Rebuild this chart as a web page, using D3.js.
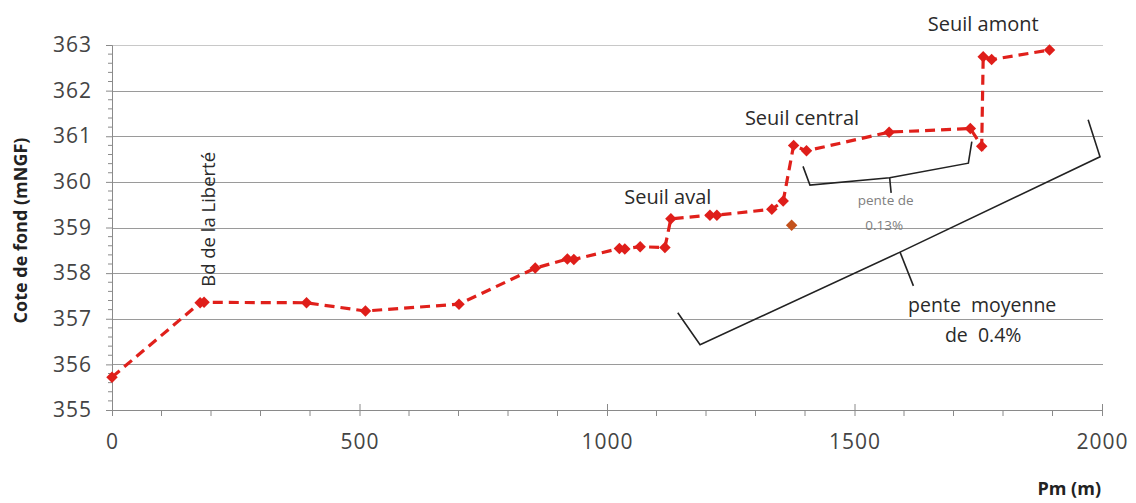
<!DOCTYPE html>
<html><head><meta charset="utf-8">
<script src="https://cdn.jsdelivr.net/npm/d3@7"></script>
<style>
html,body{margin:0;padding:0;background:#fff;}
svg{display:block;}
text{font-family:"Open Sans",sans-serif;}
</style></head>
<body><svg id="chart" width="1136" height="503"></svg>
<script>
// ---- Data ----
const pm   = [0, 178, 186, 393, 512, 701, 855, 920, 933, 1025, 1036, 1067, 1117, 1129, 1208, 1222, 1333, 1356, 1377, 1403, 1570, 1734, 1757, 1760, 1777, 1894];
const cote = [355.72, 357.35, 357.36, 357.35, 357.17, 357.32, 358.11, 358.31, 358.30, 358.54, 358.53, 358.58, 358.56, 359.19, 359.27, 359.27, 359.40, 359.58, 360.80, 360.68, 361.09, 361.17, 360.78, 362.74, 362.68, 362.89];
const pmIsolated   = [1373];
const coteIsolated = [359.05];
const xTicks = [0, 500, 1000, 1500, 2000];
const yTicks = [355, 356, 357, 358, 359, 360, 361, 362, 363];
const labels = [
  {text: "Seuil aval",    pm: 1123, cote: 359.52},
  {text: "Seuil central", pm: 1394, cote: 361.25},
  {text: "Seuil amont",   pm: 1760, cote: 363.3}
];
const smallBrace = [[1396, 360.34], [1410, 359.93], [1571, 360.09], [1730, 360.41], [1737, 360.88]];
const smallNub   = [[1571, 360.09], [1574, 359.76]];
const bigBrace   = [[1143, 357.13], [1188, 356.43], [1592, 358.46], [1996, 360.55], [1972, 361.36]];
const bigNub     = [[1592, 358.46], [1619, 357.72]];

// ---- Layout ----
const svg = d3.select("#chart");
const x = d3.scaleLinear().domain([0, 2000]).range([112, 1102]);
const y = d3.scaleLinear().domain([355, 363]).range([410, 45]);

// gridlines
svg.append("g").selectAll("line").data(yTicks.filter(v => v > 355)).join("line")
  .attr("x1", x(0)).attr("x2", x(2000) + 1)
  .attr("y1", d => Math.round(y(d)) + 0.5).attr("y2", d => Math.round(y(d)) + 0.5)
  .attr("stroke", d => d === 363 ? "#c8c8c8" : "#9a9a9a").attr("stroke-width", 1);

// y axis
const yAxis = d3.axisLeft(y).tickValues(yTicks).tickSize(6).tickPadding(14).tickFormat(d3.format("d"));
const gy = svg.append("g").attr("transform", `translate(${x(0)},0)`).call(yAxis);
gy.select(".domain").attr("stroke", "#8a8a8a");
gy.selectAll(".tick line").attr("stroke", "#8a8a8a");
gy.selectAll(".tick text").attr("font-size", 21).attr("fill", "#444").attr("letter-spacing", 1)
  .style("font-family", "Open Sans");
// y minor ticks
svg.append("g").selectAll("line").data(d3.range(355, 363.001, 0.2).filter(v => Math.abs(v - Math.round(v)) > 0.01)).join("line")
  .attr("x1", x(0) - 4).attr("x2", x(0))
  .attr("y1", d => y(d)).attr("y2", d => y(d)).attr("stroke", "#8a8a8a");

// x axis
const xAxis = d3.axisBottom(x).tickValues(xTicks).tickSize(6).tickPadding(18).tickFormat(d3.format("d"));
const gx = svg.append("g").attr("transform", `translate(0,${y(355)})`).call(xAxis);
gx.select(".domain").attr("stroke", "#8a8a8a");
gx.selectAll(".tick line").attr("stroke", "#8a8a8a").attr("y1", -6);
gx.selectAll(".tick text").attr("font-size", 21).attr("fill", "#444").attr("letter-spacing", 1);
svg.append("g").selectAll("line").data(d3.range(100, 2000, 100).filter(v => v % 500 !== 0)).join("line")
  .attr("x1", d => x(d)).attr("x2", d => x(d))
  .attr("y1", y(355)).attr("y2", y(355) + 6).attr("stroke", "#8a8a8a");

// axis titles
svg.append("text").attr("transform", `translate(27,${(y(355) + y(363)) / 2 + 3}) rotate(-90)`)
  .attr("text-anchor", "middle").attr("font-size", 18).attr("font-weight", "bold").attr("fill", "#222")
  .text("Cote de fond (mNGF)");
svg.append("text").attr("x", 1101).attr("y", 495).attr("text-anchor", "end")
  .attr("font-size", 18).attr("font-weight", "bold").attr("fill", "#222").text("Pm (m)");

// series line
const pts = pm.map((v, i) => [v, cote[i]]);
const line = d3.line().x(d => x(d[0])).y(d => y(d[1]));
svg.append("path").datum(pts).attr("d", line).attr("fill", "none")
  .attr("stroke", "#e0201b").attr("stroke-width", 3.2).attr("stroke-dasharray", "10,6");

// markers
const diamond = d3.symbol().type(d3.symbolSquare).size(66);
svg.append("g").selectAll("path").data(pts).join("path")
  .attr("d", diamond).attr("transform", d => `translate(${x(d[0])},${y(d[1])}) rotate(45)`)
  .attr("fill", "#df1e1a");
svg.append("g").selectAll("path").data(pmIsolated.map((v, i) => [v, coteIsolated[i]])).join("path")
  .attr("d", diamond).attr("transform", d => `translate(${x(d[0])},${y(d[1])}) rotate(45)`)
  .attr("fill", "#c4521c");

// labels
svg.append("g").selectAll("text").data(labels).join("text")
  .attr("x", d => x(d.pm)).attr("y", d => y(d.cote)).attr("text-anchor", "middle")
  .attr("font-size", 20).attr("fill", "#2a2a2a").text(d => d.text);
svg.append("text").attr("transform", `translate(${x(186) + 11},${y(357.7)}) rotate(-90)`)
  .attr("font-size", 18.5).attr("fill", "#2a2a2a").text("Bd de la Liberté");

// braces
const bl = d3.line().x(d => x(d[0])).y(d => y(d[1]));
[smallBrace, smallNub, bigBrace, bigNub].forEach(b => {
  svg.append("path").attr("d", bl(b)).attr("fill", "none").attr("stroke", "#222").attr("stroke-width", 1.6);
});

// brace annotations
svg.append("text").attr("x", x(1563)).attr("y", y(359.5)).attr("text-anchor", "middle")
  .attr("font-size", 13.5).attr("fill", "#808080").text("pente de");
svg.append("text").attr("x", x(1560)).attr("y", y(358.95)).attr("text-anchor", "middle")
  .attr("font-size", 13.5).attr("fill", "#808080").text("0.13%");
svg.append("text").attr("x", x(1758)).attr("y", y(357.15)).attr("text-anchor", "middle")
  .attr("font-size", 19.5).attr("fill", "#2a2a2a").attr("word-spacing", 5).text("pente moyenne");
svg.append("text").attr("x", x(1760)).attr("y", y(356.49)).attr("text-anchor", "middle")
  .attr("font-size", 19.5).attr("fill", "#2a2a2a").attr("word-spacing", 5).text("de 0.4%");
</script></body></html>
